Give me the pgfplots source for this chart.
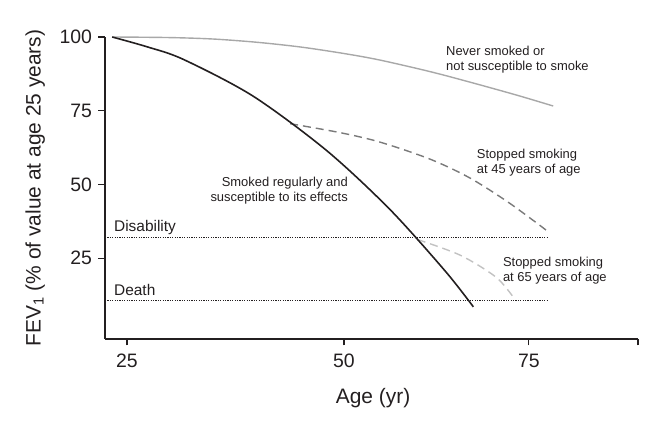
\documentclass[border=0pt]{standalone}
\usepackage{fontspec}
\setmainfont{Liberation Sans}
\usepackage{pgfplots}
\pgfplotsset{compat=1.18}
\definecolor{ink}{HTML}{231F20}
\definecolor{never}{HTML}{A8A8A8}
\definecolor{stop45}{HTML}{7A7A7A}
\definecolor{stop65}{HTML}{C2C2C2}
\newcommand{\annot}{\fontsize{13}{15}\selectfont}
\begin{document}
\begin{tikzpicture}
\begin{axis}[
    scale only axis,
    width=533bp, height=302bp,
    xmin=22.47, xmax=83.87,
    ymin=-2.4, ymax=100,
    axis lines=left,
    axis line style={-, ink, line width=1.2bp},
    tick align=outside,
    major tick length=6.5bp,
    tick style={ink, line width=1.1bp},
    xtick={25,50,71.3,83.87},
    xticklabels={25,50,75,{}},
    ytick={25,50,75,100},
    /pgf/number format/assume math mode=true,
    ticklabel style={font=\fontsize{19.5}{22}\selectfont, text=ink},
    xticklabel style={yshift=-5bp},
    yticklabel style={xshift=-3bp},
    label style={font=\fontsize{21}{24}\selectfont, text=ink},
    xlabel={Age (yr)},
    ylabel={FEV\textsubscript{1} (\% of value at age 25 years)},
    xlabel style={at={(axis description cs:0.503,-0.197)}, anchor=center},
    ylabel style={at={(axis description cs:-0.131,0.5)}, anchor=center},
    clip=false,
]
% invisible frame = full reference canvas
\path (rel axis cs:-0.197,-0.2947) rectangle (rel axis cs:1.0432,1.1225);

% thresholds
\addplot[ink, line width=0.8bp, dash pattern=on 1.2bp off 1.2bp]
    coordinates {(22.47,31.9)(73.5,31.9)};
\addplot[ink, line width=0.8bp, dash pattern=on 1.2bp off 1.2bp]
    coordinates {(22.47,10.8)(73.5,10.8)};

% never smoked
\addplot[never, line width=1.4bp, smooth]
    coordinates {(23.3,100)(30,99.8)(35,99.3)(40,98.2)(45,96.6)(50,94.4)
                 (54.1,92.2)(60,88.2)(65,84.3)(70,80.2)(74.1,76.6)};
% stopped at 45
\addplot[stop45, line width=1.4bp, dash pattern=on 8bp off 5bp, smooth]
    coordinates {(43.8,70.6)(49.5,67.6)(54.1,64.4)(59.9,58.6)(64.5,52.2)
                 (69.1,43.6)(73.7,33.6)};
% stopped at 65
\addplot[stop65, line width=1.4bp, dash pattern=on 8bp off 5bp, smooth]
    coordinates {(58.5,31.3)(63.4,26.0)(67.5,18.6)(69.5,11.8)};
% smoked regularly
\addplot[ink, line width=1.6bp, smooth]
    coordinates {(23.3,100)(27.4,96.6)(31.5,92.4)(39.5,80.0)(48,61.5)
                 (55.3,41.5)(61.7,20.5)(64.9,8.5)};

\node[anchor=west, align=left, inner sep=0, font=\annot, text=ink]
    at (axis cs:61.75,92.2) {Never smoked or\\not susceptible to smoke};
\node[anchor=east, align=right, inner sep=0, font=\annot, text=ink]
    at (axis cs:50.46,47.8) {Smoked regularly and\\susceptible to its effects};
\node[anchor=west, align=left, inner sep=0, font=\annot, text=ink]
    at (axis cs:65.3,57.5) {Stopped smoking\\at 45 years of age};
\node[anchor=west, align=left, inner sep=0, font=\annot, text=ink]
    at (axis cs:68.3,20.7) {Stopped smoking\\at 65 years of age};
\node[anchor=base west, inner sep=0, font=\fontsize{15.5}{18}\selectfont, text=ink]
    at (axis cs:23.5,33.9) {Disability};
\node[anchor=base west, inner sep=0, font=\fontsize{15.5}{18}\selectfont, text=ink]
    at (axis cs:23.5,12.5) {Death};
\end{axis}
\end{tikzpicture}
\end{document}
